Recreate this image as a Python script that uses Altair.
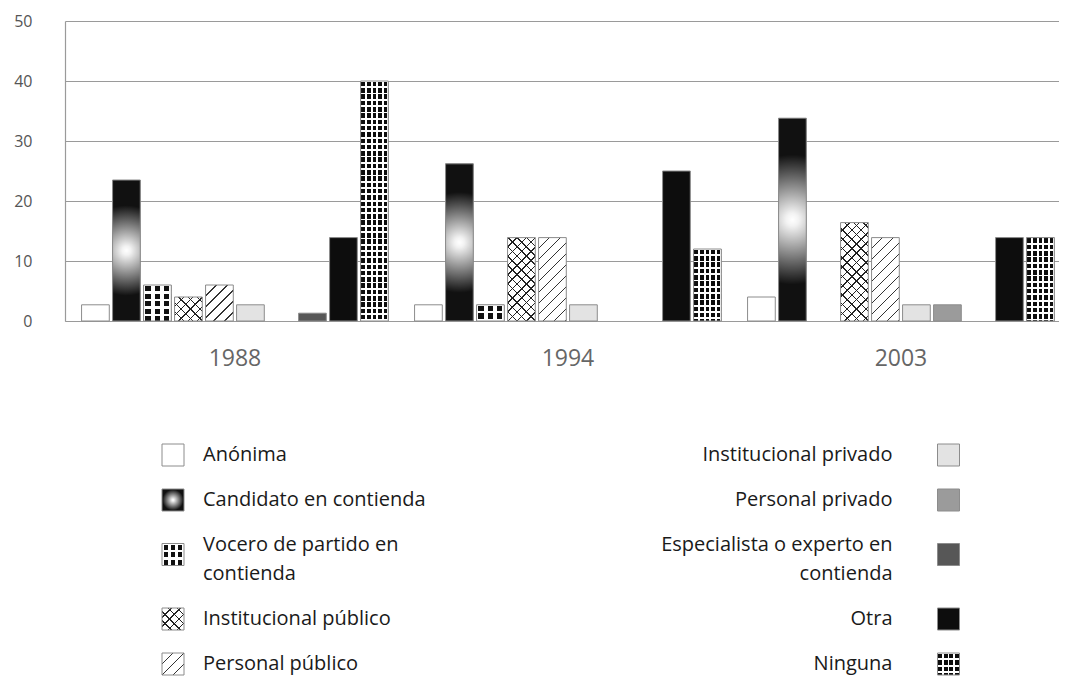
import json
import altair as alt
import pandas as pd

# ---------------- data ----------------
years = ["1988", "1994", "2003"]
categories = [
    "Anónima",
    "Candidato en contienda",
    "Vocero de partido en contienda",
    "Institucional público",
    "Personal público",
    "Institucional privado",
    "Personal privado",
    "Especialista o experto en contienda",
    "Otra",
    "Ninguna",
]
values_1988 = [2.7, 23.5, 6.0, 4.0, 6.0, 2.7, 0.0, 1.3, 13.9, 40.0]
values_1994 = [2.7, 26.2, 2.7, 13.9, 13.9, 2.7, 0.0, 0.0, 25.0, 12.0]
values_2003 = [4.0, 33.8, 0.0, 16.4, 13.9, 2.7, 2.7, 0.0, 13.9, 13.9]
legend_labels = [
    "Anónima",
    "Candidato en contienda",
    "Vocero de partido en\ncontienda",
    "Institucional público",
    "Personal público",
    "Institucional privado",
    "Personal privado",
    "Especialista o experto en\ncontienda",
    "Otra",
    "Ninguna",
]
legend_column = [0, 0, 0, 0, 0, 1, 1, 1, 1, 1]
y_ticks = [0, 10, 20, 30, 40, 50]

# ---------------- styles ----------------
FONT = "Open Sans"
GRID = "#9a9a9a"
OUTLINE = "#8c8c8c"
base_fill = ["#ffffff", "#111111", "#111111", "#ffffff", "#ffffff",
             "#e3e3e3", "#9b9b9b", "#575757", "#0d0d0d", "#0d0d0d"]

W, H = 994, 300
X_PI, X_PO, X_ALIGN = 0.069, 0.027, 0.83
OFF_PI, OFF_PO = 0.106, 0.053
step_x = W / (len(years) - X_PI + 2 * X_PO)
band_x = step_x * (1 - X_PI)
step_off = band_x / (len(categories) - OFF_PI + 2 * OFF_PO)
BAR_W = step_off * (1 - OFF_PI)
PPU = H / 50.0

CLEAR = "rgba(255,255,255,0)"


def stops_for(centers, half, color):
    out = []
    for c in centers:
        a, b = max(0.0, c - half), min(1.0, c + half)
        if b <= 0 or a >= 1:
            continue
        a, b = round(a, 5), round(b, 5)
        out += [{"offset": a, "color": CLEAR}, {"offset": a, "color": color},
                {"offset": b, "color": color}, {"offset": b, "color": CLEAR}]
    if not out:
        out = [{"offset": 0, "color": CLEAR}, {"offset": 1, "color": CLEAR}]
    return out


def lines_h(w, h, period, thick, color):
    n = int(h / period) + 2
    centers = [k * period / h for k in range(n)]
    return {"gradient": "linear", "x1": 0, "y1": 0, "x2": 0, "y2": 1,
            "stops": stops_for(centers, thick / (2 * h), color)}


def lines_v(w, h, period, thick, color):
    n = int(w / period) + 2
    centers = [k * period / w for k in range(n)]
    return {"gradient": "linear", "x1": 0, "y1": 0, "x2": 1, "y2": 0,
            "stops": stops_for(centers, thick / (2 * w), color)}


def lines_diag(w, h, period, thick, color, rising=True):
    L = w + h
    s = L / (w * w + h * h)
    if rising:
        x1, y1, x2, y2 = 0, 0, w * s, h * s
    else:
        x1, y1, x2, y2 = 0, 1, w * s, 1 - h * s
    n = int(L / period) + 2
    centers = [k * period / L for k in range(n)]
    return {"gradient": "linear", "x1": round(x1, 5), "y1": round(y1, 5),
            "x2": round(x2, 5), "y2": round(y2, 5),
            "stops": stops_for(centers, thick / (2 * L), color)}


def radial(black_at):
    return {"gradient": "radial", "x1": 0.5, "y1": 0.5, "r1": 0,
            "x2": 0.5, "y2": 0.5, "r2": 0.5,
            "stops": [{"offset": 0, "color": "#ffffff"},
                      {"offset": 0.1 * black_at, "color": "#f2f2f2"},
                      {"offset": black_at, "color": "#111111"},
                      {"offset": 1, "color": "#111111"}]}


def pattern(cat, w, h, grid_cols=5, legend=False):
    if cat == "Candidato en contienda":
        return [radial(0.95 if legend else 0.64)]
    if cat == "Vocero de partido en contienda":
        return [lines_h(w, h, 7.5, 2.2, "#ffffff"), lines_v(w, h, w / 3, 3.6, "#ffffff")]
    if cat == "Institucional público":
        return [lines_diag(w, h, 9.3, 1.5, "#222222", True),
                lines_diag(w, h, 9.3, 1.5, "#222222", False)]
    if cat == "Personal público":
        return [lines_diag(w, h, 11.0, 1.5, "#333333", True)]
    if cat == "Ninguna":
        return [lines_h(w, h, 6.3, 1.8, "#ffffff"), lines_v(w, h, w / grid_cols, 1.8, "#ffffff")]
    return []


# ---------------- table ----------------
rows = []
for yr, vals in zip(years, [values_1988, values_1994, values_2003]):
    for c, v in zip(categories, vals):
        if v > 0:
            rows.append({"year": yr, "cat": c, "value": v})
df = pd.DataFrame(rows)

X = alt.X("year:N", sort=years,
          scale=alt.Scale(domain=years, paddingInner=X_PI, paddingOuter=X_PO, align=X_ALIGN),
          axis=alt.Axis(title=None, labelAngle=0, ticks=False, tickSize=0, labelPadding=26,
                        labelFontSize=23, labelColor="#666666", labelFont=FONT,
                        domainColor=GRID, domainWidth=1.2, grid=False))
XO = alt.XOffset("cat:N", sort=categories,
                 scale=alt.Scale(domain=categories, paddingInner=OFF_PI, paddingOuter=OFF_PO))
Y = alt.Y("value:Q", scale=alt.Scale(domain=[0, 50], nice=False),
          axis=alt.Axis(title=None, values=y_ticks, ticks=False, tickSize=0, labelPadding=33,
                        labelFontSize=16, labelColor="#555555", labelFont=FONT,
                        domainColor=GRID, domainWidth=1.2, gridColor=GRID, gridWidth=1.2))
FILL_SCALE = alt.Scale(domain=categories, range=base_fill)

bars = alt.Chart(df).mark_bar(strokeWidth=0).encode(
    x=X, xOffset=XO, y=Y, fill=alt.Fill("cat:N", scale=FILL_SCALE, legend=None))

layers = [bars]
for r in rows:
    grads = pattern(r["cat"], BAR_W, r["value"] * PPU)
    for g in grads:
        flt = "datum.cat == " + json.dumps(r["cat"]) + " && datum.year == " + json.dumps(r["year"])
        layers.append(alt.Chart(df).transform_filter(flt).mark_bar(fill=g, strokeWidth=0)
                      .encode(x=X, xOffset=XO, y=Y))
outline = alt.Chart(df).mark_bar(fillOpacity=0, stroke=OUTLINE, strokeWidth=1).encode(
    x=X, xOffset=XO, y=Y)
layers.append(outline)
main = alt.layer(*layers).properties(width=W, height=H)

# ---------------- legend ----------------
LEG_H = 296
FIRST = 77
HALF1, HALF2 = 22.5, 37
LINE_H = 28.7
centers = {}
for col in (0, 1):
    prev = None
    for i in [k for k in range(len(categories)) if legend_column[k] == col]:
        n = legend_labels[i].count("\n") + 1
        half = HALF1 if n == 1 else HALF2
        cur = FIRST if prev is None else prev[0] + prev[1] + half
        centers[i] = (cur, n)
        prev = (cur, half)
leg_df = pd.DataFrame({
    "cat": categories,
    "label": legend_labels,
    "col": legend_column,
    "ty": [centers[i][0] - (centers[i][1] - 1) * LINE_H / 2 for i in range(len(categories))],
    "sy": [centers[i][0] - (5 if centers[i][1] > 1 else 0) for i in range(len(categories))],
})
LX = alt.X("col:Q", scale=alt.Scale(domain=[0, 1], range=[108, 883.5]), axis=None)
LYS = alt.Y("sy:Q", scale=alt.Scale(domain=[0, LEG_H], range=[0, LEG_H]), axis=None)
LYT = alt.Y("ty:Q", scale=alt.Scale(domain=[0, LEG_H], range=[0, LEG_H]), axis=None)
SW = 22
leg_layers = [alt.Chart(leg_df).mark_square(size=SW * SW, opacity=1, strokeWidth=0).encode(
    x=LX, y=LYS, fill=alt.Fill("cat:N", scale=FILL_SCALE, legend=None))]
for c in categories:
    for g in pattern(c, SW, SW, grid_cols=4, legend=True):
        leg_layers.append(alt.Chart(leg_df).transform_filter("datum.cat == " + json.dumps(c))
                          .mark_square(size=SW * SW, opacity=1, strokeWidth=0, fill=g)
                          .encode(x=LX, y=LYS))
leg_layers.append(alt.Chart(leg_df).mark_square(size=SW * SW, opacity=1, filled=False,
                                                color=OUTLINE, strokeWidth=1)
                  .encode(x=LX, y=LYS))
leg_layers.append(alt.Chart(leg_df).transform_filter("datum.col == 0").mark_text(
    align="left", baseline="middle", dx=30, fontSize=20, font=FONT, color="#1a1a1a",
    lineBreak="\n", lineHeight=LINE_H).encode(x=LX, y=LYT, text="label:N"))
leg_layers.append(alt.Chart(leg_df).transform_filter("datum.col == 1").mark_text(
    align="right", baseline="middle", dx=-56, fontSize=20, font=FONT, color="#1a1a1a",
    lineBreak="\n", lineHeight=LINE_H).encode(x=LX, y=LYT, text="label:N"))
legend = alt.layer(*leg_layers).properties(width=W, height=LEG_H)

chart = alt.vconcat(main, legend, spacing=8).properties(
    padding={"left": 5, "top": 5, "right": 0, "bottom": 0},
    background="#ffffff",
).configure_view(strokeWidth=0)

chart.save("out.html", embed_options={"renderer": "svg", "actions": False})
